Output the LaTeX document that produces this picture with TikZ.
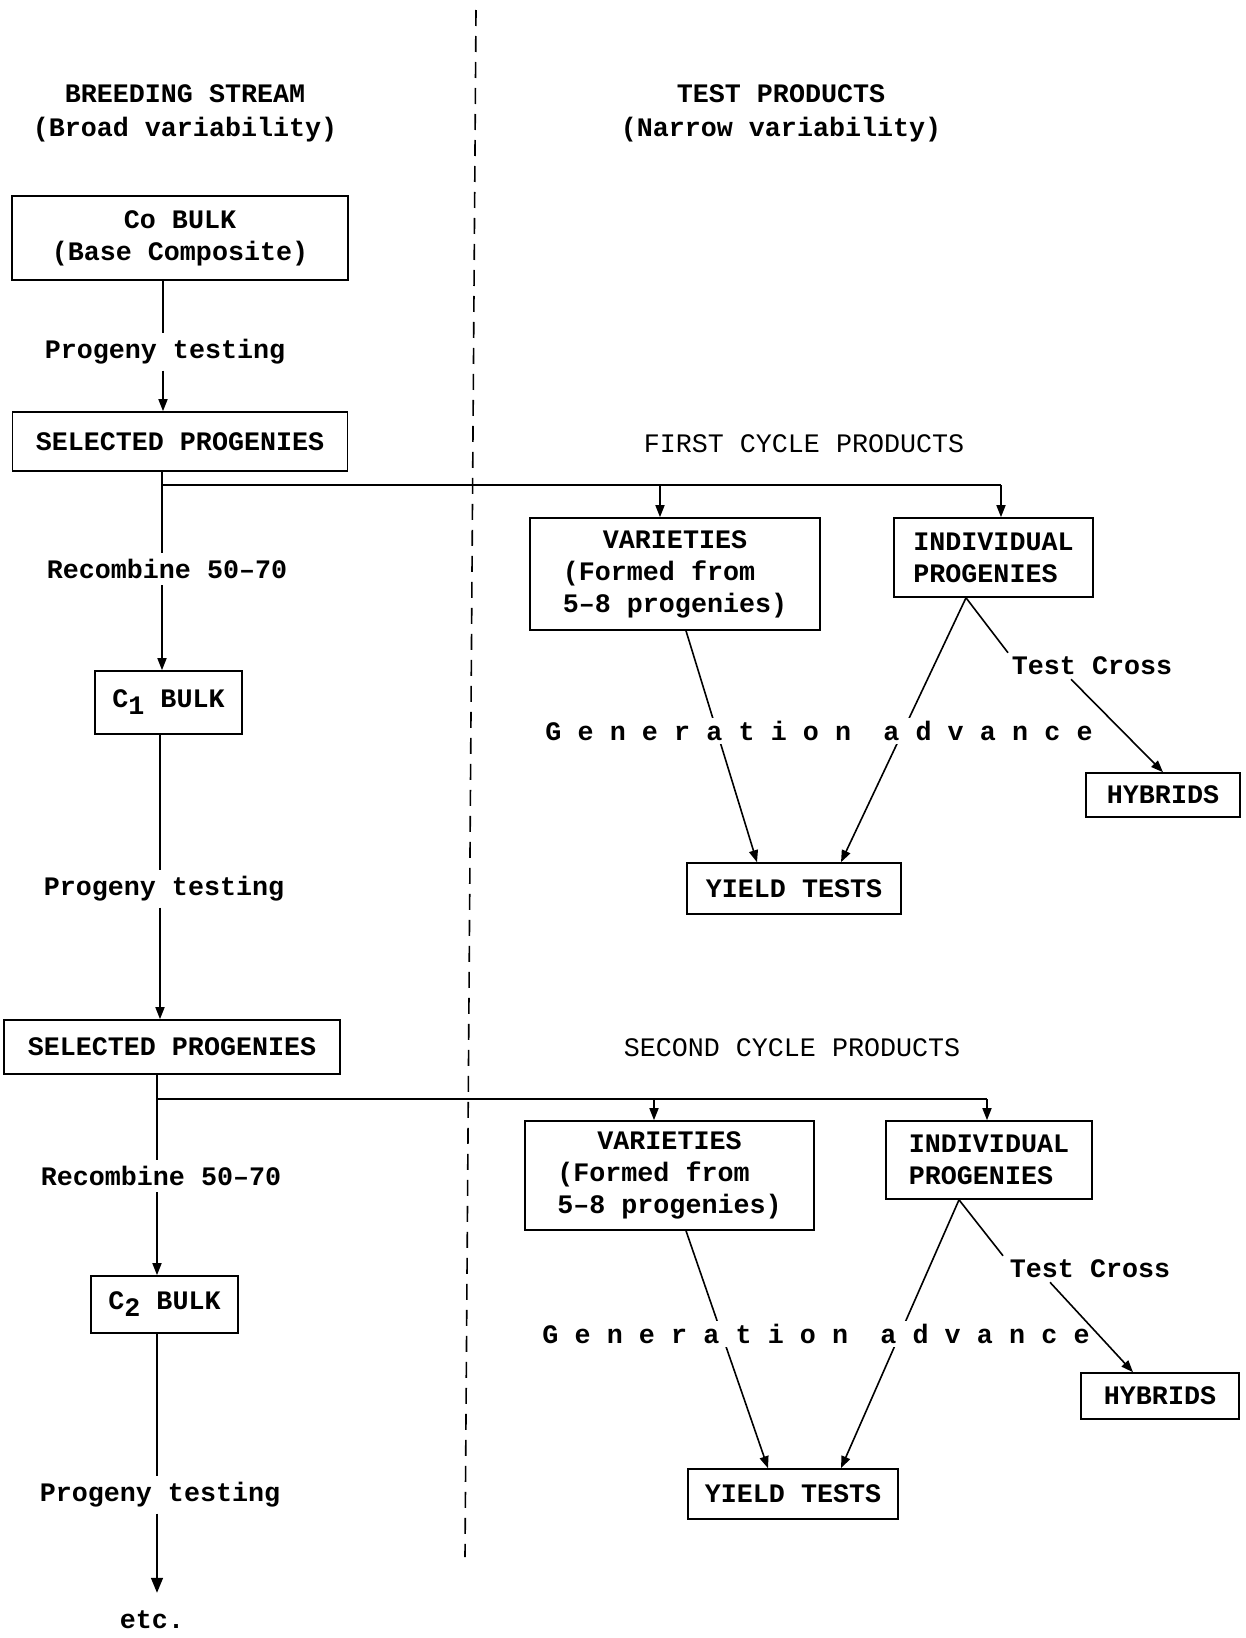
\documentclass[tikz,border=0pt]{standalone}
\usepackage{fontspec}
\setmainfont{Liberation Mono}
\usetikzlibrary{arrows.meta,calc}
\newcommand{\gl}[1]{\makebox[32.2pt][l]{#1}}
\newcommand{\genadv}{\gl{G}\gl{e}\gl{n}\gl{e}\gl{r}\gl{a}\gl{t}\gl{i}\gl{o}\gl{n}\hspace{16pt}\gl{a}\gl{d}\gl{v}\gl{a}\gl{n}\gl{c}e}
\begin{document}
\begin{tikzpicture}[x=1pt,y=-1pt,
  every node/.style={font=\fontsize{26.7}{32}\selectfont\bfseries},
  box/.style={draw,line width=1.6pt,inner sep=0pt,align=center},
  lbl/.style={inner sep=6pt},
  ln/.style={line width=1.6pt},
  arr/.style={line width=1.6pt,-{Triangle[length=12pt,width=9pt]}},
  bigarr/.style={line width=1.6pt,-{Triangle[length=15pt,width=12pt]}},
  divider/.style={line width=1.6pt,dash pattern=on 16pt off 10pt},
  ]
\useasboundingbox (0,0) rectangle (1245,1638);

% divider
\coordinate (dtop) at (476,10);
\coordinate (dbot) at (465,1557);
\draw[divider] (dtop) -- (dbot);

% headers
\node[align=center,font=\fontsize{26.7}{34}\selectfont\bfseries] (bs) at (185,113) {BREEDING STREAM\\(Broad variability)};
\node[align=center,font=\fontsize{26.7}{34}\selectfont\bfseries] (tp) at (781,113) {TEST PRODUCTS\\(Narrow variability)};
\node[font=\fontsize{26.7}{32}\selectfont\mdseries] (fc) at (804,444) {FIRST CYCLE PRODUCTS};
\node[font=\fontsize{26.7}{32}\selectfont\mdseries] (sc) at (792,1048) {SECOND CYCLE PRODUCTS};

% left column boxes
\node[box,minimum width=336pt,minimum height=84pt] (co) at (180,238) {Co BULK\\(Base Composite)};
\node[box,minimum width=335pt,minimum height=59pt] (sp1) at (180,441.5) {SELECTED PROGENIES};
\node[box,minimum width=147pt,minimum height=63pt] (c1) at (168.5,702.5) {C\raisebox{-7pt}{1} BULK};
\node[box,minimum width=336pt,minimum height=54pt] (sp2) at (172,1047) {SELECTED PROGENIES};
\node[box,minimum width=147pt,minimum height=57pt] (c2) at (164.5,1304.5) {C\raisebox{-7pt}{2} BULK};

% left column labels
\node[lbl] (pt1) at (165,352) {Progeny testing};
\node[lbl] (rc1) at (167,569) {Recombine 50–70};
\node[lbl] (pt2) at (164,889) {Progeny testing};
\node[lbl] (rc2) at (161,1176) {Recombine 50–70};
\node[lbl] (pt3) at (160,1495) {Progeny testing};
\node[lbl] (etc) at (152,1620) {etc.};

% right side, first cycle
\node[box,minimum width=290pt,minimum height=112pt] (var1) at (675,574) {VARIETIES\\(Formed from\phantom{xx}\\5–8 progenies)};
\node[box,align=left,minimum width=199pt,minimum height=79pt] (ip1) at (993.5,557.5) {INDIVIDUAL\\PROGENIES};
\node[box,minimum width=154pt,minimum height=44pt] (hyb1) at (1163,795) {HYBRIDS};
\node[box,minimum width=214pt,minimum height=51pt] (yt1) at (794,888.5) {YIELD TESTS};
\node[inner sep=4pt] (tc1) at (1092,666) {Test Cross};

% right side, second cycle
\node[box,minimum width=289pt,minimum height=109pt] (var2) at (669.5,1175.5) {VARIETIES\\(Formed from\phantom{xx}\\5–8 progenies)};
\node[box,align=left,minimum width=206pt,minimum height=78pt] (ip2) at (989,1160) {INDIVIDUAL\\PROGENIES};
\node[box,minimum width=158pt,minimum height=46pt] (hyb2) at (1160,1396) {HYBRIDS};
\node[box,minimum width=210pt,minimum height=50pt] (yt2) at (793,1494) {YIELD TESTS};
\node[inner sep=4pt] (tc2) at (1090,1269) {Test Cross};

% column x positions / junctions
\coordinate (xA) at (163,0);
\coordinate (xB) at (162,485);
\coordinate (xC) at (160,0);
\coordinate (xD) at (157,1099);
\coordinate (v1) at ([xshift=-15pt]var1.north);
\coordinate (a1) at ([xshift=7.5pt]ip1.north);
\coordinate (v2) at ([xshift=-15.5pt]var2.north);
\coordinate (a2) at ([xshift=-2pt]ip2.north);

% breeding stream
\draw[ln] (co.south -| xA) -- (pt1.north -| xA);
\draw[arr] (pt1.south -| xA) -- (sp1.north -| xA);
\draw[ln] (sp1.south -| xB) -- (rc1.north -| xB);
\draw[arr] (rc1.south -| xB) -- (c1.north -| xB);
\draw[ln] (c1.south -| xC) -- (pt2.north -| xC);
\draw[arr] (pt2.south -| xC) -- (sp2.north -| xC);
\draw[ln] (sp2.south -| xD) -- (rc2.north -| xD);
\draw[arr] (rc2.south -| xD) -- (c2.north -| xD);
\draw[ln] (c2.south -| xD) -- (pt3.north -| xD);
\draw[bigarr,shorten >=12pt] (pt3.south -| xD) -- (etc.north -| xD);

% branches to test products
\draw[ln] (xB) -- (xB -| a1);
\draw[arr] (xB -| v1) -- (v1);
\draw[arr] (xB -| a1) -- (a1);
\draw[ln] (xD) -- (xD -| a2);
\draw[arr] (xD -| v2) -- (v2);
\draw[arr] (xD -| a2) -- (a2);

% generation advance lines
\draw[arr] ([xshift=11pt]var1.south) -- ([xshift=-37pt]yt1.north);
\draw[arr] ([xshift=-27.5pt]ip1.south) -- ([xshift=47pt]yt1.north);
\draw[arr] ([xshift=16.5pt]var2.south) -- ([xshift=-25pt]yt2.north);
\draw[arr] ([xshift=-30pt]ip2.south) -- ([xshift=48pt]yt2.north);

\node[fill=white,inner sep=3pt] (ga1) at (819,731) {\genadv};
\node[fill=white,inner sep=3pt] (ga2) at (816,1334) {\genadv};

% test cross lines
\draw[ln] ([xshift=-27.5pt]ip1.south) -- ([xshift=-84pt]tc1.north);
\draw[arr] ([xshift=-21pt]tc1.south) -- (hyb1.north);
\draw[ln] ([xshift=-30pt]ip2.south) -- ([xshift=-87pt]tc2.north);
\draw[arr] ([xshift=-40pt]tc2.south) -- ([xshift=-27pt]hyb2.north);
\end{tikzpicture}
\end{document}
